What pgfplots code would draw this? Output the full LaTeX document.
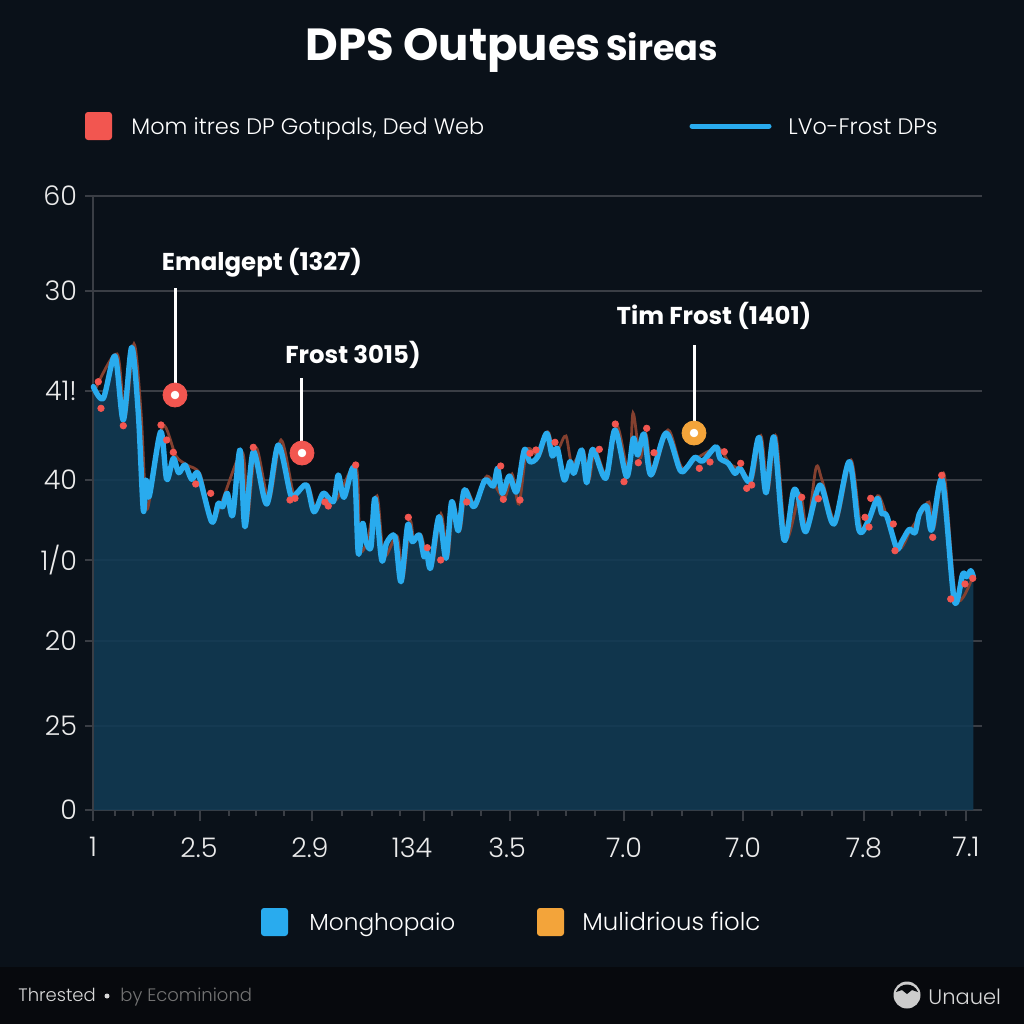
\documentclass[border=0pt]{standalone}
\usepackage{fontspec}
\setmainfont{Poppins}
\newfontfamily\lightfont{Poppins Light}
\usepackage{pgfplots}
\pgfplotsset{compat=1.18}
\usepackage{pgfplotstable}

\definecolor{bg}{HTML}{0A1119}
\definecolor{footer}{HTML}{07090D}
\definecolor{gridc}{HTML}{3A3E45}
\definecolor{fillc}{HTML}{113A54}
\definecolor{bluel}{HTML}{29ABEE}
\definecolor{redd}{HTML}{F25650}
\definecolor{brownl}{HTML}{84402F}
\definecolor{orangem}{HTML}{F3A43A}

% x and y are read off the picture; y counted up from the base line
\pgfplotstableread{
x y
93.3 423.3
103.3 411.7
115 454
123.3 390
131.7 462.7
138.3 397
143.3 300
146 330
149.3 314
160.7 378.3
166.7 330.7
173.3 351.7
178.7 337.3
185 345
191.7 330.7
198.3 336
211.7 288.3
218.3 306.7
222.7 303.3
227.3 316.7
232.7 295
240 360
245 283.3
253.3 358.3
266.7 306
278.3 365
290.7 315
296.7 316.7
306.7 325
314 298.3
323.3 316.7
333.3 308.3
338.3 335
344 312.7
354 341.7
358.3 256.7
362.7 286.7
366 268.3
371 263.3
375 311.7
381.7 250
386.7 267.3
395 273.3
401 228.3
407.7 285
412.3 268.3
419.3 275
424 253.3
426.7 258.3
430.7 242.3
439 293.3
446 251.7
451.7 308.3
458.3 279.3
464.3 320
474 303.3
485 330
493.3 324
497.7 341.7
502.3 316.7
509.3 334
516.7 318.3
524.3 360
530 348.3
537.7 353.3
546.7 376.7
552.3 354
557.3 361.7
564.3 330
570 348.3
574 336.7
581.7 360
586.7 327.3
592.7 360.7
605.7 331.7
615 380
626.7 333.3
633.3 371.7
637.7 355
644 376
651 335
666 377
680 340
686.7 342.3
695 352.7
702.7 349
716 363.3
720 351.7
728.3 346.7
735 336.7
740 341.7
750 329
759 372.7
766 317.3
774 372.7
784 270
793.3 318.3
798.3 313.3
805.7 278.3
820 325
834 286
849.3 348.3
859 280
868.3 289.3
877.3 311.7
881.7 296.7
886.7 294.3
896.7 261.7
901.7 268.3
909.3 280.7
915 277.3
919.3 296
926.7 304
931.7 280
942.3 330
954.3 209.3
962.7 236
966.7 233.3
970.7 239.3
973.3 233.3
}\bluedata

\pgfplotstableread{
x y
95 420
117 456
125 392
134 466
141 398
146 305
151 318
163 384
176 354
187 345
200 336
214 292
242 358
247 288
256 362
269 310
281 370
293 318
298 318
308 325
316 300
325 316
336 310
356 344
360 262
368 272
377 314
384 254
397 274
403 232
410 288
414 270
421 275
426 256
433 248
441 296
448 254
453 308
460 280
466 320
476 304
487 334
504 312
512 336
519 306
527 360
539 354
548 378
554 356
559 362
566 374
572 346
583 360
589 330
595 360
607 334
617 384
629 336
633 397
640 352
646 376
653 336
668 380
682 342
697 352
718 362
730 346
742 340
752 330
761 374
768 320
776 374
786 272
800 316
807 280
816 342
822 330
836 288
851 350
861 282
870 290
879 314
898 262
911 281
921 296
929 308
934 282
944 336
956 212
973 234
}\browndata

\pgfplotstableread{
x y
98.3 428.3
101 401.7
123.3 384.3
161 385
166.7 370
173.3 357.7
195.7 326
210.7 316.7
253.3 362.7
290 310
295 311.7
328.3 304
325 308
355.7 345
408.3 292.7
427.3 262.3
440.7 250
466.7 308
500.7 344
520 310
503.3 310.7
530 356.7
536 360
555 367.7
599.3 360.7
615.3 386
624 328.3
638.3 347.3
646.7 381.7
654 357.3
699.3 341.7
710 348
724.3 358.3
740.7 346.7
746.7 321.7
751.7 325
801.7 312.7
818.3 311.3
870.7 311.7
869 283
865 292.7
893.3 286
895 259.3
932.7 272.7
941.7 334.7
965 226
972.7 231.7
950.7 211
}\reddots

\begin{document}
\begin{tikzpicture}[x=0.5pt,y=-0.5pt]
\fill[bg] (0,0) rectangle (1024,1024);
\fill[footer] (0,967) rectangle (1024,1024);

\node[white,font=\bfseries\fontsize{22.5}{26}\selectfont,anchor=base west,inner sep=0pt] at (305,60) {DPS Outpues};
\node[white,font=\bfseries\fontsize{17.5}{20}\selectfont,anchor=base west,inner sep=0pt] at (606,60) {Sireas};

% top legend
\fill[redd,rounded corners=1.5pt] (85,112) rectangle (112,140);
\node[white,font=\lightfont\fontsize{11.2}{13}\selectfont,anchor=base west,inner sep=0pt] at (131,134) {Mom itres DP Gotıpals, Ded Web};
\draw[bluel,line width=2.5pt,line cap=round] (692,126) -- (769,126);
\node[white,font=\lightfont\fontsize{11.2}{13}\selectfont,anchor=base west,inner sep=0pt] at (788,134) {LVo-Frost DPs};

% bottom legend
\fill[bluel,rounded corners=1.5pt] (261,908) rectangle (288,936);
\node[white,font=\lightfont\fontsize{11.6}{13}\selectfont,anchor=base west,inner sep=0pt] at (309,930) {Monghopaio};
\fill[orangem,rounded corners=1.5pt] (537,908) rectangle (564,936);
\node[white,font=\lightfont\fontsize{12.2}{14}\selectfont,anchor=base west,inner sep=0pt] at (582,930) {Mulidrious fiolc};

% footer
\node[white!85!black,font=\lightfont\fontsize{9}{10}\selectfont,anchor=base west,inner sep=0pt] at (18,1001) {Thrested};
\fill[white!85!black] (107,996) circle (2.5);
\node[white!45!black,font=\lightfont\fontsize{9}{10}\selectfont,anchor=base west,inner sep=0pt] at (120,1001) {by Ecominiond};
\fill[white!80!black] (907,995) circle (13.5);
\fill[footer] (896,992) .. controls (900,982) and (914,982) .. (918,992) -- (912,990) -- (907,994) -- (902,990) -- cycle;
\node[white!85!black,font=\lightfont\fontsize{10.5}{12}\selectfont,anchor=base west,inner sep=0pt] at (928,1004) {Unauel};

\begin{axis}[
    at={(42.5pt,-405pt)},anchor=south west,
    scale only axis,
    width=448.5pt,height=307pt,
    xmin=85,xmax=982,
    ymin=0,ymax=614,
    clip=false,
    axis line style={draw=none},
    ymajorgrids,
    grid style={gridc,line width=1.2pt},
    xtick pos=bottom,ytick pos=left,
    xtick={93,199,310,412,507,624,743,864,966},
    xticklabels={1,2.5,2.9,134,3.5,7.0,7.0,7.8,7.1},
    ytick={0,84,169,250,330,419,519,614},
    yticklabels={0,25,20,1/0,40,41!,30,60},
    major x tick style={draw=none},
    major y tick style={draw=none},
    minor xtick={115,133,153,175,229,256,284,342,372,400,452,481,538,566,595,652,682,712,772,802,832,892,920,946},
    minor tick length=3pt,
    minor x tick style={gridc,line width=1pt},
    xtick align=outside,
    extra x ticks={93,200,312,424,510,624,743,864,966},
    extra x tick labels={},
    extra x tick style={major tick length=5.5pt,major x tick style={gridc,line width=1pt,draw=gridc},xtick align=outside,xtick pos=bottom},
    tick label style={white!92!black,font=\lightfont\fontsize{13.5}{15}\selectfont},
    xticklabel style={yshift=-6pt},
    yticklabel style={xshift=-0.5pt},
]
\addplot[draw=none,fill=fillc,fill opacity=0.88] table[x=x,y=y] {\bluedata} -- (axis cs:973.3,0) -- (axis cs:93.3,0) -- cycle;
\draw[gridc,line width=1.2pt] (axis cs:93,0) -- (axis cs:93,614);
\addplot[brownl,line width=1.4pt,smooth,tension=0.5] table[x=x,y=y] {\browndata};
\addplot[only marks,mark=*,mark size=1.6pt,color=redd,mark options={draw=redd,fill=redd}] table[x=x,y=y] {\reddots};
\addplot[bluel,line width=2.7pt,smooth,tension=0.5,line cap=round,line join=round] table[x=x,y=y] {\bluedata};

% call-outs
\addplot[white,line width=1.5pt] coordinates {(175,415) (175,522)};
\addplot[white,line width=1.5pt] coordinates {(301,357) (301,432)};
\addplot[white,line width=1.5pt] coordinates {(694,377) (694,465)};
\addplot[only marks,mark=*,mark size=6pt,color=redd,mark options={draw=redd,fill=redd}] coordinates {(175,415) (302,357)};
\addplot[only marks,mark=*,mark size=6pt,color=orangem,mark options={draw=orangem,fill=orangem}] coordinates {(694,377)};
\addplot[only marks,mark=*,mark size=1.9pt,color=white,mark options={draw=white,fill=white}] coordinates {(175,415) (302,357) (694,377)};
\node[white,font=\bfseries\fontsize{12.2}{14}\selectfont] at (axis cs:262,547) {Emalgept (1327)};
\node[white,font=\bfseries\fontsize{12.2}{14}\selectfont] at (axis cs:353,455) {Frost 3015)};
\node[white,font=\bfseries\fontsize{12.2}{14}\selectfont] at (axis cs:714,494) {Tim Frost (1401)};
\end{axis}
\end{tikzpicture}
\end{document}
